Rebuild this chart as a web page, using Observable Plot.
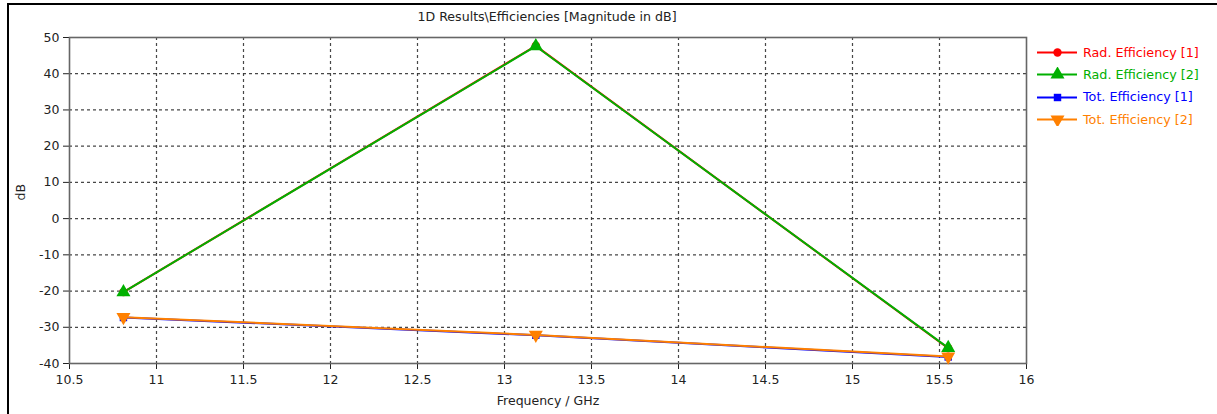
<!DOCTYPE html>
<html>
<head>
<meta charset="utf-8">
<script src="https://cdn.jsdelivr.net/npm/d3@7"></script>
<script src="https://cdn.jsdelivr.net/npm/@observablehq/plot@0.6"></script>
<style>
  html, body { margin: 0; padding: 0; background: #fff; }
  #wrap { position: relative; width: 1217px; height: 414px; overflow: hidden; font-family: "DejaVu Sans", sans-serif; }
  #wrap > svg { position: absolute; left: 0; top: 0; }
  .frameTop { position: absolute; left: 7px; top: 3px; width: 1210px; height: 2px; background: #000; }
  .frameLeft { position: absolute; left: 7px; top: 3px; width: 2px; height: 411px; background: #000; }
  #title { position: absolute; top: 9px; left: 0; width: 1094px; text-align: center; font-size: 12.6px; color: #222; }
  #legend { position: absolute; left: 1037px; top: 41px; font-family: "DejaVu Sans", sans-serif; }
  .row { display: flex; align-items: center; height: 22.3px; white-space: nowrap; }
  .row svg { margin-right: 6px; flex: none; }
  .row span { display: inline-block; font-size: 12.5px; }
</style>
</head>
<body>
<div id="wrap">
  <div id="title">1D Results\Efficiencies [Magnitude in dB]</div>
  <div id="legend"></div>
  <div class="frameTop"></div>
  <div class="frameLeft"></div>
</div>
<script>
const freq = [10.81, 13.18, 15.55];
const radEff1 = [-20.3, 47.7, -35.8];
const radEff2 = [-20.3, 47.6, -35.7];
const totEff1 = [-27.3, -32.2, -38.2];
const totEff2 = [-27.2, -32.1, -38.1];
const seriesNames = ["Rad. Efficiency [1]", "Rad. Efficiency [2]", "Tot. Efficiency [1]", "Tot. Efficiency [2]"];
const seriesColors = ["#ff0000", "#00b000", "#0000ff", "#ff8000"];
const xTicks = [10.5, 11, 11.5, 12, 12.5, 13, 13.5, 14, 14.5, 15, 15.5, 16];
const yTicks = [-40, -30, -20, -10, 0, 10, 20, 30, 40, 50];

const triangleDown = {
  draw(context, size) {
    const y = -Math.sqrt(size / (Math.sqrt(3) * 3));
    const s3 = Math.sqrt(3);
    context.moveTo(0, -y * 2);
    context.lineTo(-s3 * y, y);
    context.lineTo(s3 * y, y);
    context.closePath();
  }
};
const symbols = ["circle", "triangle", "square", triangleDown];
const radii = [4.2, 5.2, 4.2, 5.2];

const allSeries = [radEff1, radEff2, totEff1, totEff2];
const data = [];
allSeries.forEach((vals, si) => vals.forEach((v, i) => data.push({x: freq[i], y: v, s: si})));

const marks = [
  Plot.gridX(xTicks.filter(t => t > 10.5 && t < 16), {stroke: "#333", strokeOpacity: 0.9, strokeDasharray: "3,3", strokeWidth: 1.2}),
  Plot.gridY(yTicks.filter(t => t > -40 && t < 50), {stroke: "#333", strokeOpacity: 0.9, strokeDasharray: "3,3", strokeWidth: 1.2}),
  Plot.axisX({ticks: xTicks, tickSize: 6, tickPadding: 6, fontSize: 12.5, label: null, tickFormat: d => String(d)}),
  Plot.axisY({ticks: yTicks, tickSize: 6, tickPadding: 4, fontSize: 12.5, label: null, tickFormat: d => String(d)}),
  Plot.frame({stroke: "#666", strokeWidth: 1.6})
];
[0, 1, 2, 3].forEach(si => {
  const d = data.filter(r => r.s === si);
  marks.push(Plot.line(d, {x: "x", y: "y", stroke: seriesColors[si], strokeWidth: 2}));
});
[0, 1, 2, 3].forEach(si => {
  const d = data.filter(r => r.s === si);
  marks.push(Plot.dot(d, {x: "x", y: "y", fill: seriesColors[si], stroke: "none", symbol: () => symbols[si], r: radii[si]}));
});

const chart = Plot.plot({
  width: 1217,
  height: 414,
  marginLeft: 69,
  marginRight: 191,
  marginTop: 37,
  marginBottom: 51,
  style: {fontFamily: "DejaVu Sans, sans-serif", fontSize: "12.5px", color: "#222", background: "transparent"},
  x: {domain: [10.5, 16]},
  y: {domain: [-40, 50]},
  marks: [
    ...marks,
    Plot.text(["Frequency / GHz"], {frameAnchor: "bottom", dy: 41, fontSize: 12.5, fill: "#222"}),
    Plot.text(["dB"], {frameAnchor: "left", dx: -49, rotate: -90, fontSize: 12.5, fill: "#222"})
  ]
});
document.getElementById("wrap").insertBefore(chart, document.getElementById("wrap").firstChild);

const legend = document.getElementById("legend");
const spans = [];
seriesNames.forEach((name, si) => {
  const row = document.createElement("div");
  row.className = "row";
  const sw = Plot.plot({
    width: 40, height: 14, margin: 0,
    x: {domain: [0, 1], axis: null}, y: {domain: [0, 1], axis: null},
    style: {background: "transparent"},
    marks: [
      Plot.ruleY([0.5], {stroke: seriesColors[si], strokeWidth: 2}),
      Plot.dot([{x: 0.5, y: 0.5}], {x: "x", y: "y", fill: seriesColors[si], stroke: "none", symbol: () => symbols[si], r: radii[si]})
    ]
  });
  row.appendChild(sw);
  const t = document.createElement("span");
  t.textContent = name;
  t.style.color = seriesColors[si];
  row.appendChild(t);
  legend.appendChild(row);
  spans.push(t);
});
// size the legend text so the first label spans about 116px, as in the reference
const w = spans[0].getBoundingClientRect().width;
if (w > 0) {
  const fs = Math.max(10, Math.min(17, 12.5 * 116 / w));
  spans.forEach(s => s.style.fontSize = fs + "px");
}
</script>
</body>
</html>
